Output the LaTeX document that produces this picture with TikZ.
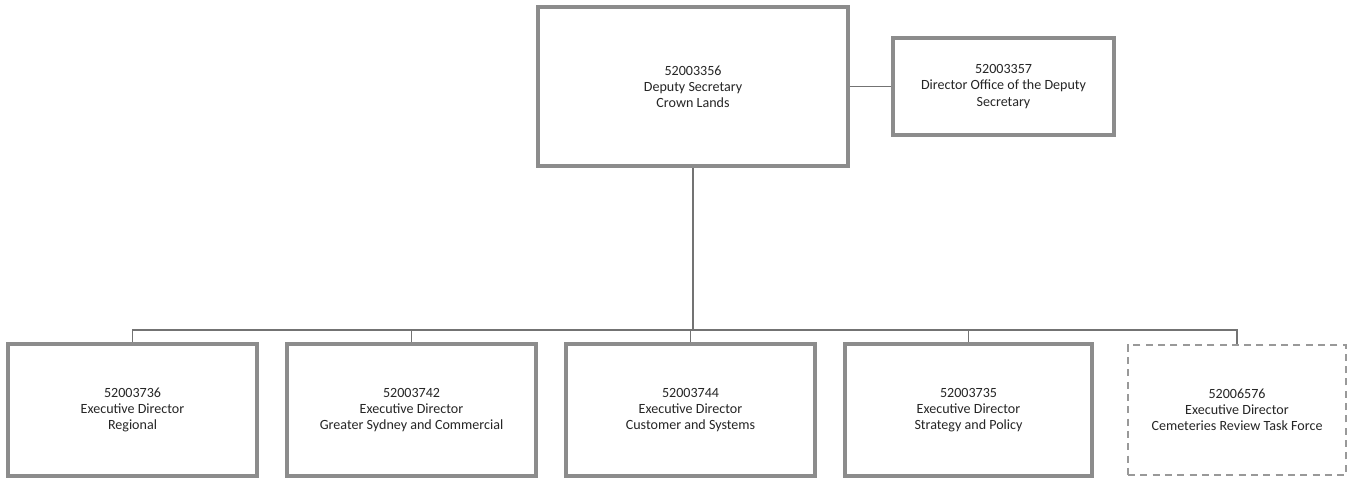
\documentclass[tikz,border=0pt]{standalone}
\usepackage{fontspec}
\setmainfont{Carlito}
\usetikzlibrary{positioning}
\tikzset{
  posbox/.style={draw=black!45, line width=2.2pt, fill=white, align=center,
    inner sep=0pt, font=\fontsize{8}{9.2}\selectfont, text=black!85},
  vacbox/.style={posbox, draw=black!40, line width=1.3pt, dash pattern=on 4pt off 3pt},
  link/.style={draw=black!55, line width=0.9pt}
}
\begin{document}
\begin{tikzpicture}
        \useasboundingbox (0,0) rectangle (26.96,9.58);

        % draw top positions
        \node[posbox, minimum width=6.2cm, minimum height=3.18cm] (ds) at (13.86,7.85)
          {52003356\\Deputy Secretary\\Crown Lands};
        \node[posbox, minimum width=4.42cm, minimum height=1.94cm] (dods) at (20.07,7.85)
          {52003357\\Director Office of the Deputy\\Secretary};

        % draw executive directors
        \node[posbox, minimum width=4.98cm, minimum height=2.64cm] (reg) at (2.65,1.38)
          {52003736\\Executive Director\\Regional};
        \node[posbox, minimum width=4.98cm, minimum height=2.64cm] (gsc) at (8.23,1.38)
          {52003742\\Executive Director\\Greater Sydney and Commercial};
        \node[posbox, minimum width=4.98cm, minimum height=2.64cm] (cas) at (13.81,1.38)
          {52003744\\Executive Director\\Customer and Systems};
        \node[posbox, minimum width=4.94cm, minimum height=2.64cm] (sap) at (19.37,1.38)
          {52003735\\Executive Director\\Strategy and Policy};
        \node[vacbox, minimum width=4.36cm, minimum height=2.6cm] (crt) at (24.74,1.38)
          {52006576\\Executive Director\\Cemeteries Review Task Force};

        % draw reporting lines
        \coordinate (bus) at (0,2.98);
        \draw[link] (ds) -- (dods);
        \draw[link] (ds.south) -- (ds.south |- bus);
        \foreach \n in {reg,gsc,cas,sap,crt}
          \draw[link] (ds.south |- bus) -| (\n.north);
\end{tikzpicture}
\end{document}
